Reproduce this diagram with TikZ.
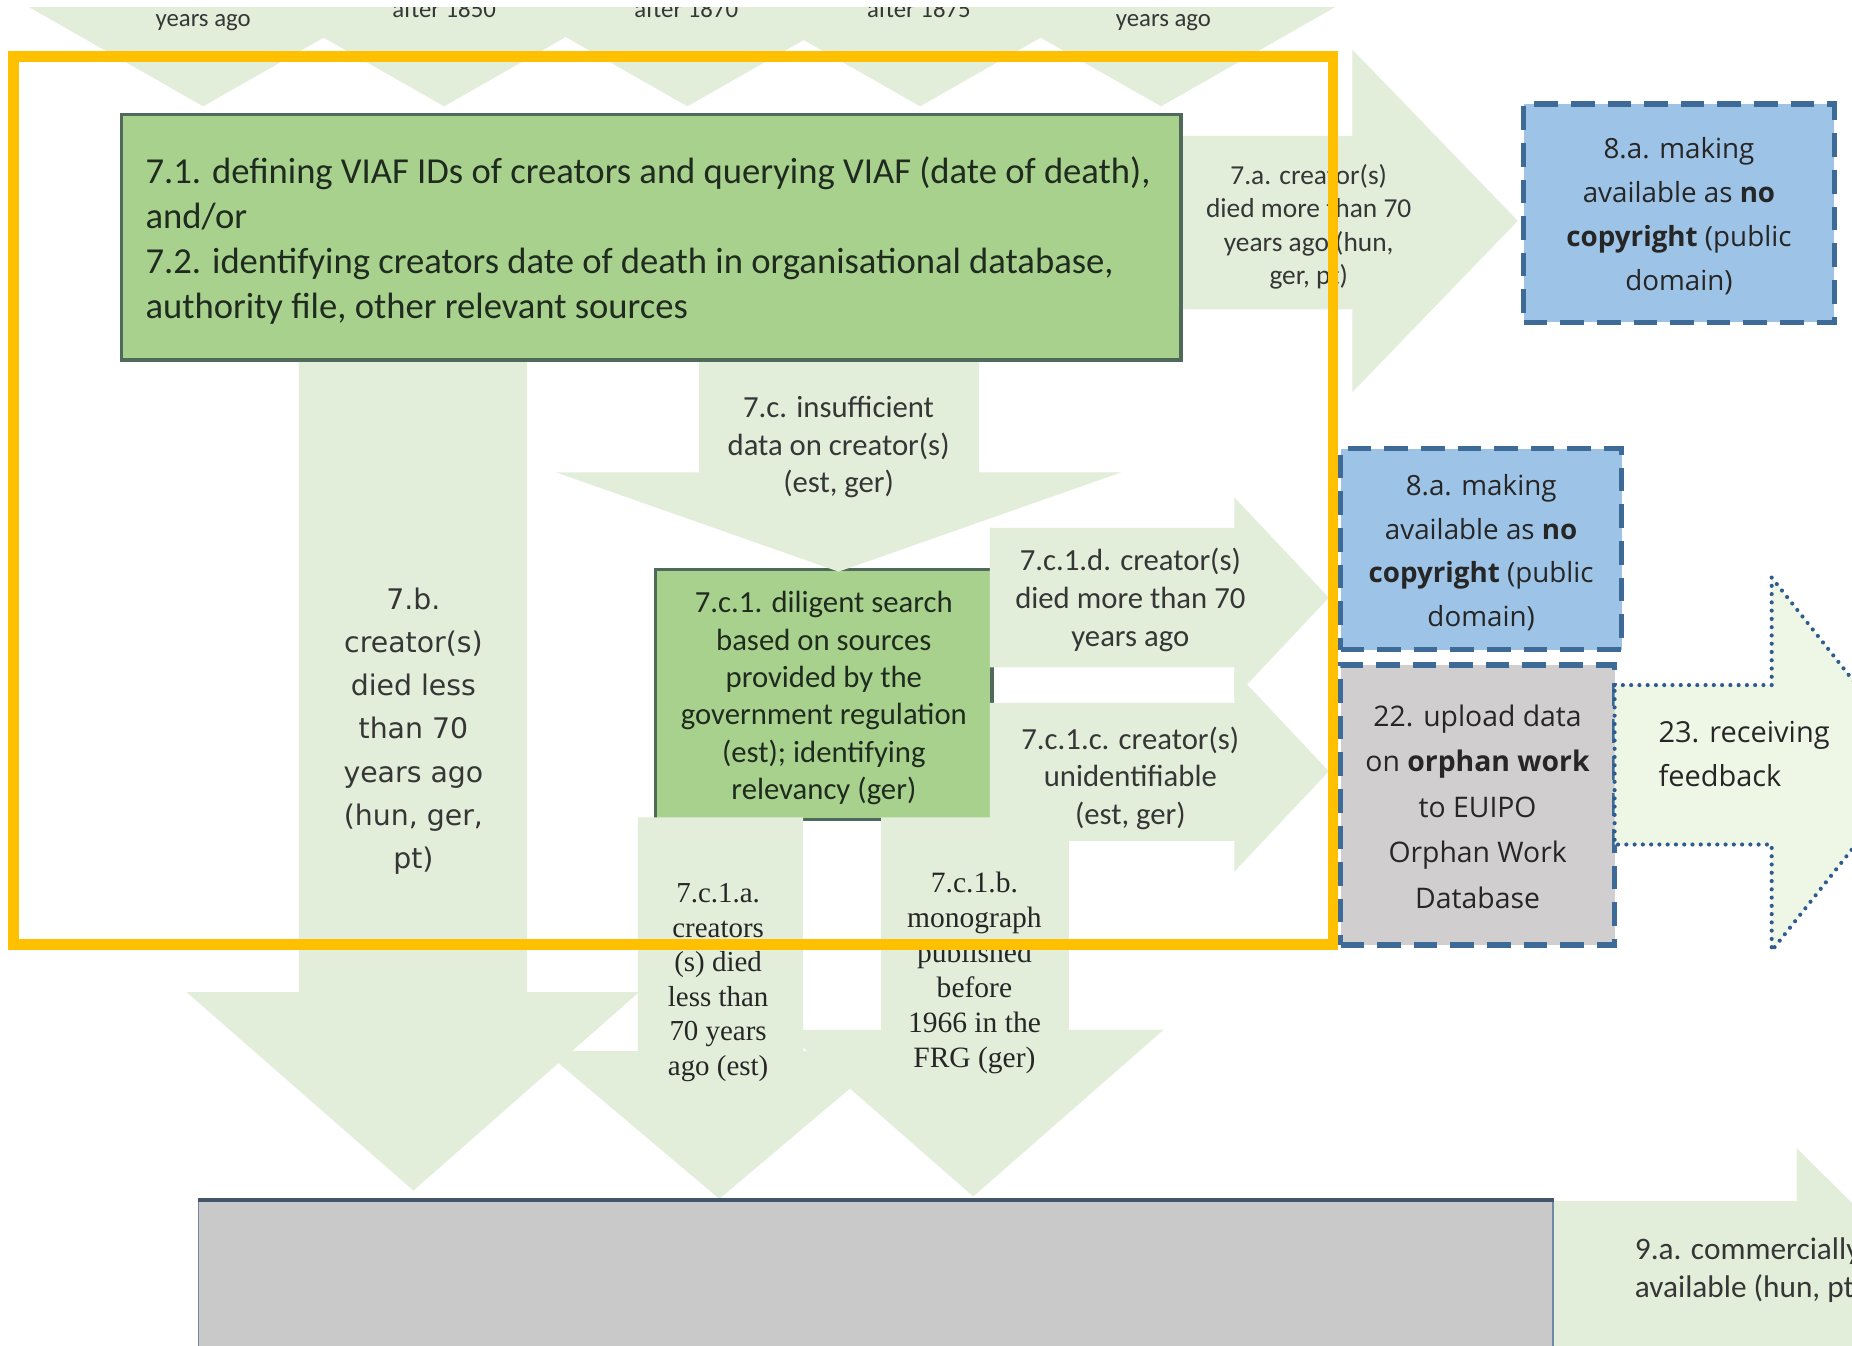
\documentclass[tikz,border=0pt]{standalone}
\usepackage{fontspec}
\setmainfont{Carlito}
\newfontfamily\osans{Open Sans}
\newfontfamily\dvsans{DejaVu Sans}
\newfontfamily\lserif{Liberation Serif}
\definecolor{arrowgreen}{HTML}{E2EEDA}
\definecolor{boxgreen}{HTML}{A9D18E}
\definecolor{boxborder}{HTML}{4F6A5B}
\definecolor{boxblue}{HTML}{9DC3E6}
\definecolor{dashblue}{HTML}{3D6A96}
\definecolor{grayfill}{HTML}{C9C9C9}
\definecolor{grayfillb}{HTML}{D0CECE}
\definecolor{fbgreen}{HTML}{EEF6E6}
\definecolor{dotblue}{HTML}{2F5C8F}
\definecolor{framey}{HTML}{FFC000}
\definecolor{textdark}{HTML}{262626}
\definecolor{textgray}{HTML}{363636}
\definecolor{greentext}{HTML}{1F2B1E}
\definecolor{graytop}{HTML}{45556B}
\definecolor{grayside}{HTML}{7089A8}
\begin{document}
\begin{tikzpicture}[x=1pt,y=-1pt,
  lightarrow/.style={fill=arrowgreen},
  greenbox/.style={draw=boxborder, fill=boxgreen, line width=3pt, inner sep=0pt},
  dashbox/.style={draw=dashblue, line width=4.5pt, dash pattern=on 20pt off 11pt, inner sep=0pt},
  boxtext/.style={inner sep=0pt, align=center, text=textdark},
  dotarrow/.style={fill=fbgreen, draw=dotblue, line width=3.5pt, dash pattern=on 0pt off 7pt, line cap=round},
  toptext/.style={text=textgray, font=\fontsize{21}{26}\selectfont, inner sep=0pt},
  arrtext/.style={text=textgray, inner sep=0pt, align=center},
  yframe/.style={draw=framey, line width=9pt}
]
\useasboundingbox (0,0) rectangle (1568,1139);
\clip (0,0) rectangle (1568,1139);
\fill[white] (0,0) rectangle (1568,1139);

% top row of arrow heads
\foreach \cx in {172,376,582,779,983}
  \fill[arrowgreen] ({\cx-158},0) -- ({\cx+158},0) -- (\cx,90) -- cycle;
\node[toptext, anchor=base] (ty1) at (172,22.5) {years ago};
\node[toptext, anchor=base] (ty2) at (376,14.5) {after 1850};
\node[toptext, anchor=base] (ty3) at (581,14.5) {after 1870};
\node[toptext, anchor=base] (ty4) at (778,14.5) {after 1875};
\node[toptext, anchor=base] (ty5) at (985,22.5) {years ago};
\fill[white] (0,0) rectangle (1568,6);

% diligent search box (under the arrows that touch it)
\node[greenbox, minimum width=285pt, minimum height=212pt] (b7c1) at (697.5,588) {};
\node[boxtext, text=greentext, font=\fontsize{26}{31.6}\selectfont] (t7c1) at (697.5,591)
  {7.c.1. diligent search\\based on sources\\provided by the\\government regulation\\(est); identifying\\relevancy (ger)};

% light block arrows
\fill[lightarrow] (1000,115) -- (1145,115) -- (1145,42) -- (1285,187) -- (1145,332) -- (1145,262) -- (1000,262) -- cycle;
\fill[lightarrow] (253,305) -- (446,305) -- (446,840) -- (541,840) -- (350,1008) -- (158,840) -- (253,840) -- cycle;
\fill[lightarrow] (592,305) -- (829,305) -- (829,400) -- (949,400) -- (710,484) -- (471,400) -- (592,400) -- cycle;
\fill[lightarrow] (838,447) -- (1045,447) -- (1045,421) -- (1125,506) -- (1045,591) -- (1045,565) -- (838,565) -- cycle;
\fill[lightarrow] (838,595) -- (1045,595) -- (1045,568) -- (1125,653) -- (1045,738) -- (1045,712) -- (838,712) -- cycle;
\fill[lightarrow] (540,692) -- (680,692) -- (680,890) -- (757,890) -- (609,1015) -- (461,890) -- (540,890) -- cycle;
\fill[lightarrow] (746,692) -- (905,692) -- (905,872) -- (985,872) -- (824,1013) -- (663,872) -- (746,872) -- cycle;
\fill[lightarrow] (1315,1017) -- (1521,1017) -- (1521,972) -- (1711,1160) -- (1315,1160) -- cycle;

% main green box
\node[greenbox, minimum width=897pt, minimum height=208pt] (b71) at (551.5,201) {};
\node[anchor=west, align=left, inner sep=0pt, text=greentext,
      font=\fontsize{31}{38}\selectfont] (t71) at (123,203.5)
  {7.1. defining VIAF IDs of creators and querying VIAF (date of death),\\and/or\\7.2. identifying creators date of death in organisational database,\\authority file, other relevant sources};

% bottom gray box
\node[fill=grayfill, draw=grayside, line width=1.5pt, minimum width=1147pt, minimum height=143pt, inner sep=0pt] (bgray) at (741.5,1088.5) {};
\draw[graytop, line width=3.5pt] (bgray.north west) -- (bgray.north east);

% right column
\node[dashbox, fill=boxblue, minimum width=263pt, minimum height=185pt] (b8a1) at (1421.5,180.5) {};
\node[boxtext, font=\osans\fontsize{23.5}{37}\selectfont] (t8a1) at (1421.5,183)
  {8.a. making\\available as \textbf{no}\\\textbf{copyright} (public\\domain)};
\node[dashbox, fill=boxblue, minimum width=238pt, minimum height=170pt] (b8a2) at (1254,465) {};
\node[boxtext, font=\osans\fontsize{23.5}{37}\selectfont] (t8a2) at (1254,468)
  {8.a. making\\available as \textbf{no}\\\textbf{copyright} (public\\domain)};
\node[dashbox, fill=grayfillb, minimum width=232pt, minimum height=237pt] (b22) at (1251,681.5) {};
\node[boxtext, font=\osans\fontsize{24}{38.5}\selectfont] (t22) at (1251,683)
  {22. upload data\\on \textbf{orphan work}\\to EUIPO\\Orphan Work\\Database};
\draw[dotarrow] (1367,580) -- (1500,580) -- (1500,489) -- (1625,647) -- (1500,805) -- (1500,715) -- (1367,715) -- cycle;
\node[anchor=west, align=left, inner sep=0pt, text=textdark,
      font=\osans\fontsize{24.5}{37}\selectfont] (t23) at (1404,638.5)
  {23. receiving\\feedback};

% arrow labels
\node[arrtext, font=\fontsize{23.2}{28.3}\selectfont] (t7a) at (1108,192)
  {7.a. creator(s)\\died more than 70\\years ago (hun,\\ger, pt)};
\node[arrtext, font=\dvsans\fontsize{24}{36.5}\selectfont] (t7b) at (350,619)
  {7.b.\\creator(s)\\died less\\than 70\\years ago\\(hun, ger,\\pt)};
\node[arrtext, font=\fontsize{26}{31.5}\selectfont] (t7c) at (710,378.5)
  {7.c. insufficient\\data on creator(s)\\(est, ger)};
\node[arrtext, font=\fontsize{26}{32}\selectfont] (t7c1d) at (957,508)
  {7.c.1.d. creator(s)\\died more than 70\\years ago};
\node[arrtext, font=\fontsize{26}{32}\selectfont] (t7c1c) at (957,659)
  {7.c.1.c. creator(s)\\unidentifiable\\(est, ger)};
\node[arrtext, text=textdark, font=\lserif\fontsize{24.5}{29.2}\selectfont] (t7c1a) at (608,832)
  {7.c.1.a.\\creators\\(s) died\\less than\\70 years\\ago (est)};
\node[arrtext, text=textdark, font=\lserif\fontsize{25}{29.6}\selectfont] (t7c1b) at (825,824)
  {7.c.1.b.\\monograph\\published\\before\\1966 in the\\FRG (ger)};
\node[anchor=west, align=left, inner sep=0pt, text=textgray,
      font=\fontsize{26.5}{32}\selectfont] (t9a) at (1384,1075.5)
  {9.a. commercially\\available (hun, pt)};

% yellow highlight frame
\draw[yframe] (11.5,48) rectangle (1128.5,799.5);
\end{tikzpicture}
\end{document}
